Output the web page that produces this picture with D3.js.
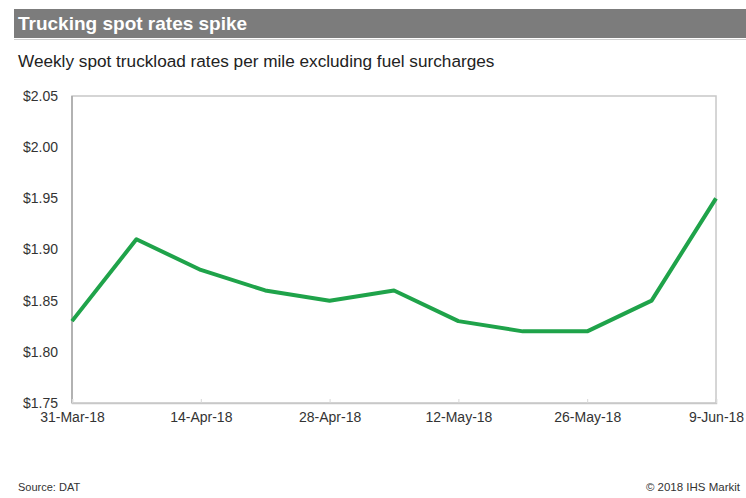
<!DOCTYPE html>
<html>
<head>
<meta charset="utf-8">
<script src="https://cdn.jsdelivr.net/npm/d3@7"></script>
<style>
  body { margin: 0; background: #fff; }
  text { font-family: "Liberation Sans", Arial, sans-serif; }
</style>
</head>
<body>
<svg id="chart" width="746" height="498"></svg>
<script>
// weekly dates, one point per week
var dates = ["2018-03-31", "2018-04-07", "2018-04-14", "2018-04-21", "2018-04-28", "2018-05-05",
             "2018-05-12", "2018-05-19", "2018-05-26", "2018-06-02", "2018-06-09"];
var rates = [1.83, 1.91, 1.88, 1.86, 1.85, 1.86, 1.83, 1.82, 1.82, 1.85, 1.95];
var tickDates = ["2018-03-31", "2018-04-14", "2018-04-28", "2018-05-12", "2018-05-26", "2018-06-09"];
var yTicks = [1.75, 1.80, 1.85, 1.90, 1.95, 2.00, 2.05];

var parse = d3.timeParse("%Y-%m-%d");
var data = dates.map(function (d, i) { return { date: parse(d), value: rates[i] }; });

var svg = d3.select("#chart");
// plot box (note: "top" is a reserved window prop, so use pTop etc)
var pLeft = 72, pRight = 716, pTop = 96, pBottom = 403;

// title bar
svg.append("rect").attr("x", 14).attr("y", 9).attr("width", 732).attr("height", 29).attr("fill", "#7c7c7c");
svg.append("line").attr("x1", 14).attr("x2", 746).attr("y1", 39.5).attr("y2", 39.5).attr("stroke", "#d0d0d0");
svg.append("text").attr("x", 18).attr("y", 30).attr("fill", "#fff")
   .attr("font-size", 19).attr("font-weight", "bold").text("Trucking spot rates spike");
svg.append("text").attr("x", 18).attr("y", 67).attr("fill", "#222")
   .attr("font-size", 17.2).text("Weekly spot truckload rates per mile excluding fuel surcharges");

var x = d3.scaleTime().domain(d3.extent(data, function (d) { return d.date; })).range([pLeft, pRight]);
var y = d3.scaleLinear().domain([1.75, 2.05]).range([pBottom, pTop]);

// frame
svg.append("rect").attr("x", pLeft).attr("y", pTop).attr("width", pRight - pLeft).attr("height", pBottom - pTop)
   .attr("fill", "none").attr("stroke", "#c8c8c8").attr("stroke-width", 1.5);
svg.append("line").attr("x1", pLeft).attr("x2", pLeft).attr("y1", pTop).attr("y2", pBottom)
   .attr("stroke", "#a6a6a6").attr("stroke-width", 1.5);

// y axis
var yAxis = svg.append("g").attr("transform", "translate(" + pLeft + ",0)")
   .call(d3.axisLeft(y).tickValues(yTicks).tickSize(0).tickPadding(14)
     .tickFormat(function (d) { return "$" + d.toFixed(2); }));
yAxis.select(".domain").remove();
yAxis.selectAll("text").attr("font-size", 14).attr("fill", "#333").attr("font-family", "Liberation Sans, Arial, sans-serif");

// x axis
var xAxis = svg.append("g").attr("transform", "translate(0," + pBottom + ")")
   .call(d3.axisBottom(x).tickValues(tickDates.map(parse)).tickSize(-4).tickPadding(9)
     .tickFormat(function (d) { return d.getDate() + "-" + d3.timeFormat("%b-%y")(d); }));
xAxis.select(".domain").attr("stroke", "#c8c8c8").attr("stroke-width", 1.5);
xAxis.selectAll(".tick line").attr("stroke", "#d8d8d8");
xAxis.selectAll("text").attr("font-size", 14).attr("fill", "#333").attr("font-family", "Liberation Sans, Arial, sans-serif");

// line
var line = d3.line().x(function (d) { return x(d.date); }).y(function (d) { return y(d.value); });
svg.append("path").datum(data).attr("d", line).attr("fill", "none")
   .attr("stroke", "#1fa34a").attr("stroke-width", 4).attr("stroke-linejoin", "round");

// footer
svg.append("text").attr("x", 18).attr("y", 491).attr("font-size", 11).attr("fill", "#333").text("Source: DAT");
svg.append("text").attr("x", 740).attr("y", 491).attr("font-size", 11.5).attr("fill", "#333")
   .attr("text-anchor", "end").text("\u00a9 2018 IHS Markit");
</script>
</body>
</html>
